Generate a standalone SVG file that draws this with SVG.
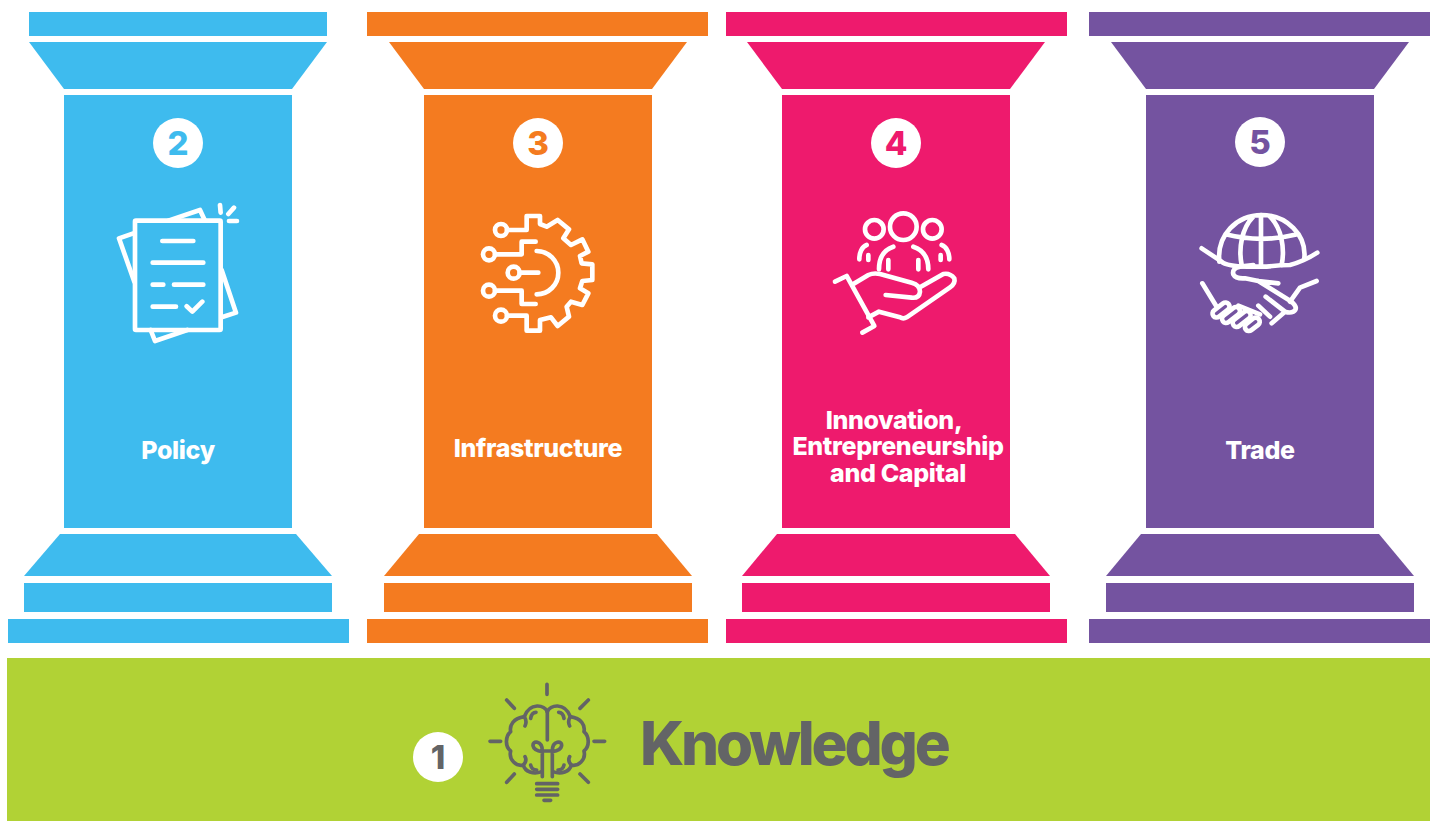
<svg xmlns="http://www.w3.org/2000/svg" width="1437" height="821" viewBox="0 0 1437 821">
<style>
.ic{fill:none;stroke-linecap:round;stroke-linejoin:round;stroke-width:14}
.w{stroke:#fff}
.g{stroke:#636466}
.lb{font-family:Inter,"Liberation Sans",sans-serif;font-weight:800;font-size:25px;fill:#fff;text-anchor:middle;letter-spacing:-.35px}
.n{font-family:Inter,"Liberation Sans",sans-serif;font-weight:800;font-size:33px;text-anchor:middle}
.blue{fill:#3EBBEE}.or{fill:#F47B20}.pk{fill:#EE1A6D}.pu{fill:#7453A0}
</style>
<rect width="1437" height="821" fill="#fff"/>
<g id="pillar-knowledge">
<rect x="7" y="658" width="1423" height="163" fill="#B1D235"/>
<circle cx="438" cy="757" r="25" fill="#fff"/>
<text class="n" x="438" y="769" fill="#636466">1</text>
<g class="ic g" style="stroke-width:11" transform="translate(480 675) scale(.3333)">
<path d="M201 28V58M80 75L103 100M325 75L300 100M30 199H62M342 199H374M80 322L103 297M325 322L300 297M170 326H233M170 343H233M170 360H233M192 376H212M202 110V195"/>
<path d="M202 110C195 90 150 80 133 125C100 130 88 150 92 170C75 185 75 215 92 228C85 255 110 275 130 270C135 290 160 300 185 290"/>
<path d="M202 110C209 90 254 80 271 125C304 130 316 150 312 170C329 185 329 215 312 228C319 255 294 275 274 270C269 290 244 300 219 290"/>
<path d="M152 130Q155 112 168 112M252 130Q249 112 236 112M133 125Q142 140 135 153M271 125Q262 140 269 153M152 270Q155 285 170 285M252 270Q249 285 234 285M130 270Q142 258 135 245M274 270Q262 258 269 245"/>
<path d="M187 305V230C150 225 155 198 172 202C185 205 187 220 187 228H217C217 220 219 205 232 202C249 198 254 225 217 230V305"/>
</g>
<text x="640" y="765" font-family="Inter,'Liberation Sans',sans-serif" font-weight="800" font-size="60" fill="#636466" letter-spacing="-3.2">Knowledge</text>
</g>
<g id="pillar-policy" class="blue">
<rect x="29" y="12" width="298" height="24"/>
<polygon points="29,42 327,42 292,89 64,89"/>
<rect x="64" y="95" width="228" height="433"/>
<polygon points="60,534 296,534 332,576 24,576"/>
<rect x="24" y="583" width="308" height="29"/>
<rect x="8" y="619" width="341" height="24"/>
<circle cx="178" cy="143" r="25" fill="#fff"/>
<text class="n" x="178" y="155">2</text>
<g class="ic w" transform="translate(100 190) scale(.3333)">
<rect x="105" y="92" width="257" height="328" rx="3"/>
<path d="M100 130L57 145L103 275M205 92L300 60L315 92M365 240L408 368L365 382M262 420L165 453L152 420"/>
<path d="M187 153H280M158 218H310M158 284H190M222 284H310M158 350H228M260 349L277 365L307 335M360 45L362 68M385 72L402 53M387 93H411"/>
</g>
<text class="lb" x="178" y="459">Policy</text>
</g>
<g id="pillar-infrastructure" class="or">
<rect x="367" y="12" width="341" height="24"/>
<polygon points="389,42 687,42 652,89 424,89"/>
<rect x="424" y="95" width="228" height="433"/>
<polygon points="419,534 657,534 692,576 384,576"/>
<rect x="384" y="583" width="308" height="29"/>
<rect x="367" y="619" width="341" height="24"/>
<circle cx="538" cy="143" r="25" fill="#fff"/>
<text class="n" x="538" y="155">3</text>
<g class="ic w" transform="translate(465 200) scale(.3333)">
<circle cx="108" cy="90" r="18"/><circle cx="72" cy="163" r="18"/><circle cx="146" cy="218" r="18"/><circle cx="72" cy="272" r="18"/><circle cx="108" cy="347" r="18"/>
<path d="M126 90H185V48H225V72L245 80L278 60L312 88L295 115L318 135L352 118L370 155L345 168L350 190L382 193V240L352 243L345 265L370 280L352 315L318 305L305 320L312 350L278 378L258 352L225 360V392H185V347H126"/>
<path d="M90 163H170V125H212M90 272H170V312H212M164 218H220M215 153A65 65 0 0 1 215 283"/>
</g>
<text class="lb" x="538" y="457">Infrastructure</text>
</g>
<g id="pillar-innovation" class="pk">
<rect x="726" y="12" width="341" height="24"/>
<polygon points="747,42 1045,42 1010,89 782,89"/>
<rect x="782" y="95" width="228" height="433"/>
<polygon points="777,534 1015,534 1050,576 742,576"/>
<rect x="742" y="583" width="308" height="29"/>
<rect x="726" y="619" width="341" height="24"/>
<circle cx="896" cy="143" r="25" fill="#fff"/>
<text class="n" x="896" y="155">4</text>
<g class="ic w" transform="translate(825 200) scale(.3333)">
<circle cx="235" cy="80" r="40"/><circle cx="148" cy="88" r="28"/><circle cx="322" cy="88" r="28"/>
<path d="M205 140C175 150 162 175 162 208M190 180V208M265 140C295 150 310 175 310 208M280 180V208M125 135C110 140 103 160 103 178M130 165V180M350 135C365 140 373 160 373 178M347 165V180"/>
<path d="M30 245L65 228L148 378L112 398M85 252L130 225Q145 218 165 222L260 248Q285 255 285 275Q283 295 260 293L182 285M285 262L355 222Q375 218 388 235Q392 250 375 262L245 352Q235 358 225 352L162 335L130 352"/>
</g>
<text class="lb"><tspan x="894" y="429">Innovation,</tspan><tspan x="898" y="455">Entrepreneurship</tspan><tspan x="898" y="482">and Capital</tspan></text>
</g>
<g id="pillar-trade" class="pu">
<rect x="1089" y="12" width="341" height="24"/>
<polygon points="1111,42 1409,42 1374,89 1146,89"/>
<rect x="1146" y="95" width="228" height="433"/>
<polygon points="1141,534 1379,534 1414,576 1106,576"/>
<rect x="1106" y="583" width="308" height="29"/>
<rect x="1089" y="619" width="341" height="24"/>
<circle cx="1260" cy="142" r="25" fill="#fff"/>
<text class="n" x="1260" y="154">5</text>
<g class="ic w" transform="translate(1190 205) scale(.3333)">
<path d="M88 170C80 90 140 30 215 30C290 30 350 90 343 160M213 30V185M190 35C155 70 145 130 155 180M240 35C275 70 285 130 275 180M107 88Q215 115 322 88"/>
<path d="M35 130L95 170Q110 183 170 185L230 185Q270 180 300 180Q340 170 382 143"/>
</g>
<g class="ic w" transform="translate(1195 265) scale(.3333)">
<path d="M175 0L135 5Q110 10 115 28Q122 42 150 40L190 48L250 55M190 48L290 110Q312 130 295 140Q285 145 270 140L212 95M22 55L65 125M365 48L315 68L285 110M270 140L230 175M130 122L195 148M190 122L225 155"/>
<rect x="49" y="123" width="58" height="24" rx="12" transform="rotate(-38 78 135)"/>
<rect x="77" y="138" width="62" height="24" rx="12" transform="rotate(-38 108 150)"/>
<rect x="109" y="150" width="62" height="24" rx="12" transform="rotate(-38 140 162)"/>
<rect x="147" y="166" width="50" height="24" rx="12" transform="rotate(-38 172 178)"/>
</g>
<text class="lb" x="1260" y="459">Trade</text>
</g>
</svg>
